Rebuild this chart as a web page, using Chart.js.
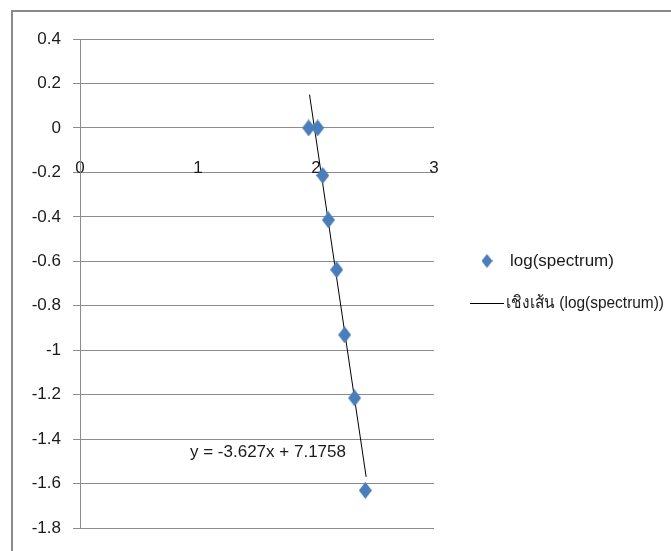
<!DOCTYPE html>
<html lang="th">
<head>
<meta charset="UTF-8">
<title>log(spectrum)</title>
<script src="https://cdn.jsdelivr.net/npm/chart.js"></script>
<style>
  html, body { margin: 0; padding: 0; background: #fff; }
  #wrap { width: 671px; height: 551px; }
</style>
</head>
<body>
<div id="wrap"><canvas id="chart" width="671" height="551"></canvas></div>
<script>
  // values
  const xValues = [1.938, 2.014, 2.057, 2.105, 2.175, 2.243, 2.327, 2.418];
  const yValues = [0, 0, -0.214, -0.414, -0.638, -0.931, -1.215, -1.631];
  const trendX = [1.945, 2.425];
  const trendY = [0.15, -1.57];
  const xTicks = [0, 1, 2, 3];
  const yTicks = [0.4, 0.2, 0, -0.2, -0.4, -0.6, -0.8, -1, -1.2, -1.4, -1.6, -1.8];
  const seriesName = 'log(spectrum)';
  const trendName = 'เชิงเส้น (log(spectrum))';
  const equationText = 'y = -3.627x + 7.1758';
  const equationAt = [1.593, -1.461];

  const FONT_FAMILY = "'Liberation Sans', Arial, sans-serif";
  const FONT_SIZE = 17;
  const TEXT = '#1a1a1a';
  const GRID = '#8c8c8c';
  const BLUE = '#4a7ebb';

  // excel-style diamond, a bit taller than wide
  function diamond(w, h, color) {
    const c = document.createElement('canvas');
    c.width = w; c.height = h;
    const g = c.getContext('2d');
    g.fillStyle = color;
    g.beginPath();
    g.moveTo(w / 2, 0);
    g.lineTo(w, h / 2);
    g.lineTo(w / 2, h);
    g.lineTo(0, h / 2);
    g.closePath();
    g.fill();
    return c;
  }

  const pointMarker = diamond(13, 17, BLUE);
  const legendMarker = diamond(11, 14, BLUE);

  const extras = {
    id: 'extras',
    beforeDraw(chart) {
      const ctx = chart.ctx;
      ctx.save();
      ctx.fillStyle = '#8a8a8a';
      ctx.fillRect(11, 10, 660, 2);
      ctx.fillRect(11, 10, 2, 541);
      ctx.restore();
    },
    afterDraw(chart) {
      const { ctx, chartArea, scales } = chart;
      ctx.save();
      ctx.font = FONT_SIZE + 'px ' + FONT_FAMILY;
      ctx.fillStyle = TEXT;
      ctx.textBaseline = 'middle';

      // trendline equation
      ctx.textAlign = 'center';
      ctx.fillText(equationText, scales.x.getPixelForValue(equationAt[0]), scales.y.getPixelForValue(equationAt[1]));

      // legend
      const ds = chart.data.datasets;
      const lx = chartArea.right + 53;
      ctx.textAlign = 'left';
      ctx.drawImage(legendMarker, lx - 5.5, 261 - 7);
      ctx.fillText(ds[0].label, lx + 23, 261);

      ctx.strokeStyle = '#000';
      ctx.lineWidth = 1;
      ctx.beginPath();
      ctx.moveTo(lx - 17, 303.5);
      ctx.lineTo(lx + 17, 303.5);
      ctx.stroke();
      // thai label is squeezed to fit like the original
      ctx.fillText(ds[1].label, lx + 19, 303, 158);
      ctx.restore();
    }
  };

  new Chart(document.getElementById('chart'), {
    type: 'scatter',
    data: {
      datasets: [
        {
          label: seriesName,
          data: xValues.map((x, i) => ({ x: x, y: yValues[i] })),
          pointStyle: pointMarker,
          pointRadius: 8,
          backgroundColor: BLUE,
          borderColor: BLUE
        },
        {
          label: trendName,
          type: 'line',
          data: trendX.map((x, i) => ({ x: x, y: trendY[i] })),
          borderColor: '#000',
          borderWidth: 1,
          pointRadius: 0,
          fill: false
        }
      ]
    },
    options: {
      responsive: false,
      animation: false,
      layout: { padding: { left: 0, right: 237, top: 39, bottom: 23 } },
      plugins: {
        legend: { display: false },
        tooltip: { enabled: false }
      },
      scales: {
        x: {
          type: 'linear',
          position: { y: 0 },
          min: 0,
          max: 3,
          afterBuildTicks: (s) => { s.ticks = xTicks.map(v => ({ value: v })); },
          afterFit: (s) => { s.height = 0; },
          grid: { display: false, drawTicks: false },
          border: { display: false },
          ticks: {
            padding: 30,
            color: TEXT,
            font: { family: FONT_FAMILY, size: FONT_SIZE },
            maxRotation: 0,
            autoSkip: false
          }
        },
        y: {
          type: 'linear',
          min: -1.8,
          max: 0.4,
          afterBuildTicks: (s) => { s.ticks = yTicks.map(v => ({ value: v })); },
          afterFit: (s) => { s.width = 80; },
          grid: { color: GRID, lineWidth: 1, tickLength: 7, tickColor: GRID },
          border: { display: true, color: GRID, width: 1 },
          ticks: {
            padding: 12,
            color: TEXT,
            font: { family: FONT_FAMILY, size: FONT_SIZE },
            callback: (v) => String(Math.round(v * 10) / 10)
          }
        }
      }
    },
    plugins: [extras]
  });
</script>
</body>
</html>
